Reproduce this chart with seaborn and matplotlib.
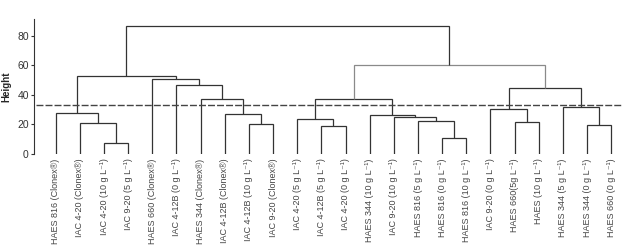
import matplotlib
matplotlib.use("Agg")
import matplotlib.pyplot as plt
import seaborn as sns

# Leaf labels in dendrogram order
labels = [
    "HAES 816 (Clonex®)", "IAC 4-20 (Clonex®)", "IAC 4-20 (10 g L⁻¹)", "IAC 9-20 (5 g L⁻¹)",
    "HAES 660 (Clonex®)", "IAC 4-12B (0 g L⁻¹)", "HAES 344 (Clonex®)", "IAC 4-12B (Clonex®)",
    "IAC 4-12B (10 g L⁻¹)", "IAC 9-20 (Clonex®)", "IAC 4-20 (5 g L⁻¹)", "IAC 4-12B (5 g L⁻¹)",
    "IAC 4-20 (0 g L⁻¹)", "HAES 344 (10 g L⁻¹)", "IAC 9-20 (10 g L⁻¹)", "HAES 816 (5 g L⁻¹)",
    "HAES 816 (0 g L⁻¹)", "HAES 816 (10 g L⁻¹)", "IAC 9-20 (0 g L⁻¹)", "HAES 660(5g L⁻¹)",
    "HAES (10 g L⁻¹)", "HAES 344 (5 g L⁻¹)", "HAES 344 (0 g L⁻¹)", "HAES 660 (0 g L⁻¹)",
]

# Merges (linkage style): child_a, child_b, height ; new cluster id = 24 + row index
merge_a = [2, 1, 0, 8, 7, 6, 5, 4, 26, 11, 10, 16, 15, 14, 13, 34, 19, 18, 22, 21, 41, 39, 32]
merge_b = [3, 24, 25, 9, 27, 28, 29, 30, 31, 12, 33, 17, 35, 36, 37, 38, 20, 40, 23, 42, 43, 44, 45]
merge_h = [7.5, 20.8, 27.8, 19.9, 27.1, 37.3, 46.6, 50.4, 52.5, 18.6, 23.3, 10.4, 22.2, 24.7,
           26.2, 36.9, 21.3, 30.3, 19.7, 31.9, 44.3, 60.3, 86.6]

cut_height = 33.0
yticks = [0, 20, 40, 60, 80]

sns.set_theme(style="ticks")
plt.rcParams['font.family'] = ['Liberation Sans Narrow', 'Liberation Sans', 'DejaVu Sans']

fig = plt.figure(figsize=(6.24, 2.47), dpi=100)
ax = fig.add_axes([0.055, 0.375, 0.942, 0.547])

n = len(labels)
xpos = {i: float(i) for i in range(n)}
hpos = {i: 0.0 for i in range(n)}
lc = "#333333"
for k, (a, b, h) in enumerate(zip(merge_a, merge_b, merge_h)):
    cid = n + k
    xa, xb = xpos[a], xpos[b]
    color = "#8a8a8a" if cid == n + 21 else lc
    ax.plot([xa, xa, xb, xb], [hpos[a], h, h, hpos[b]], color=color, lw=0.9,
            solid_joinstyle="miter", solid_capstyle="butt")
    xpos[cid] = (xa + xb) / 2
    hpos[cid] = h

ax.set_xlim(-0.886, 23.45)
ax.set_ylim(-0.5, 91)
ax.plot([-0.8, 23.4], [cut_height, cut_height], color="#444444", lw=1.0, dashes=(5, 1.5))

ax.set_xticks(range(n))
ax.set_xticklabels(labels, rotation=90, fontsize=6.5, color="#444444")
ax.tick_params(axis="x", length=0, pad=3)
ax.set_yticks(yticks)
ax.tick_params(axis="y", labelsize=7.5, length=2.5, width=0.8, pad=1.5, colors="#333333")
ax.set_ylabel("Height", fontsize=7, fontweight="bold", labelpad=4)
for s in ["top", "right", "bottom"]:
    ax.spines[s].set_visible(False)
ax.spines["left"].set_color("#333333")
ax.spines["left"].set_linewidth(0.8)
ax.spines["left"].set_bounds(0, 91)
ax.grid(False)

fig.savefig("out.png", dpi=100)
